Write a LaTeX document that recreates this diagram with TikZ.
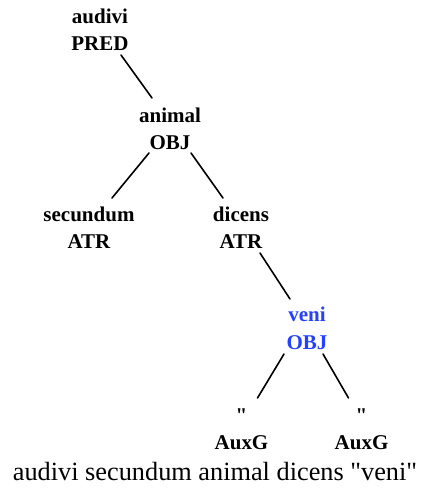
\documentclass[tikz,border=0pt]{standalone}
\usepackage{fontspec}
\setmainfont{Liberation Serif}[Ligatures=TeXOff]
\usetikzlibrary{calc}
\definecolor{focus}{RGB}{35,65,255}
\begin{document}
\begin{tikzpicture}[x=1pt,y=-1pt,
  word/.style={inner sep=0pt,anchor=base,font=\fontsize{21}{25}\selectfont\bfseries},
  edge/.style={line width=1.6pt,line cap=round},
  caption/.style={inner sep=0pt,anchor=base,font=\fontsize{26.3}{30}\selectfont}]
\useasboundingbox (0,0) rectangle (422,493);
% tree nodes
\node[word] (audivi) at (100,23) {audivi};
\node[word] (audiviL) at (100,50) {PRED};
\node[word] (animal) at (170,122) {animal};
\node[word] (animalL) at (170,149) {OBJ};
\node[word] (secundum) at (89,221) {secundum};
\node[word] (secundumL) at (89,248) {ATR};
\node[word] (dicens) at (241,221) {dicens};
\node[word] (dicensL) at (241,248) {ATR};
\node[word,text=focus] (veni) at (307,321) {veni};
\node[word,text=focus] (veniL) at (307,349) {OBJ};
\node[word] (q1) at (241.5,422) {"};
\node[word] (q1L) at (241.5,449) {AuxG};
\node[word] (q2) at (361.5,422) {"};
\node[word] (q2L) at (361.5,449) {AuxG};
% connectors
\draw[edge] ($(audiviL.base)+(21,5)$) -- ($(animal.base)+(-18,-24)$);
\draw[edge] ($(animalL.base)+(-21,4)$) -- ($(secundum.base)+(23,-23)$);
\draw[edge] ($(animalL.base)+(21,4)$) -- ($(dicens.base)+(-18,-23)$);
\draw[edge] ($(dicensL.base)+(19,5)$) -- ($(veni.base)+(-17,-22)$);
\draw[edge] ($(veniL.base)+(-23,5)$) -- ($(q1.base)+(16,-24)$);
\draw[edge] ($(veniL.base)+(16,5)$) -- ($(q2.base)+(-13,-24)$);
% sentence
\node[caption] (sentence) at (215,480) {audivi secundum animal dicens "veni"};
\end{tikzpicture}
\end{document}
